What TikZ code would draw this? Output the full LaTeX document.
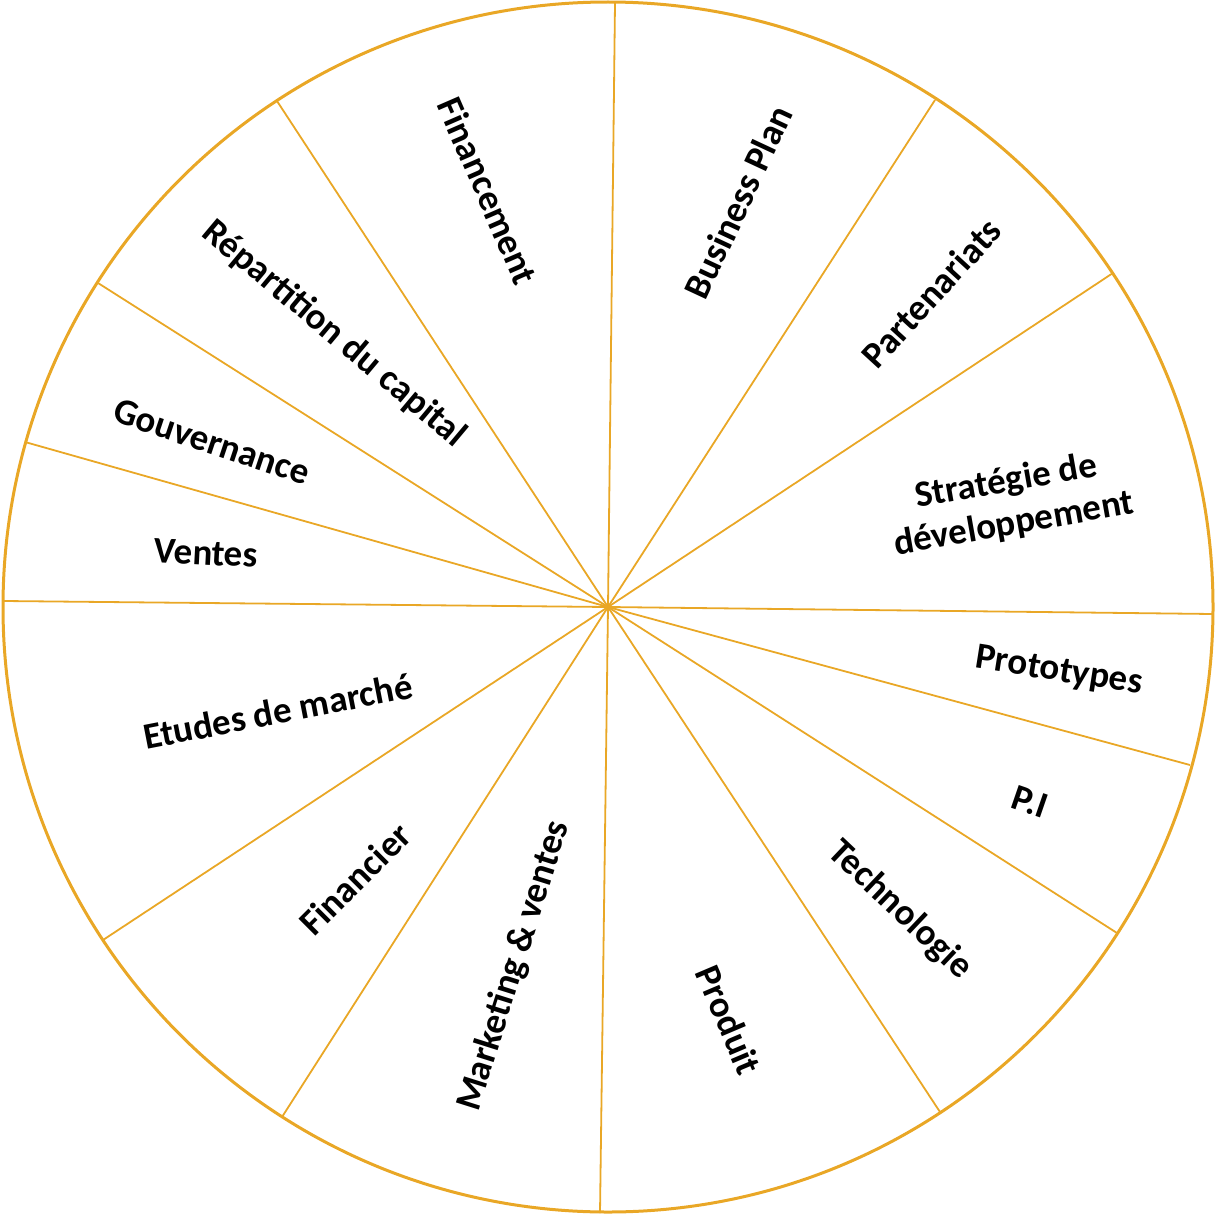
\documentclass[tikz,border=0pt]{standalone}
\usepackage{fontspec}
\setmainfont{Carlito}
\definecolor{gold}{RGB}{233,167,38}
\begin{document}
\begin{tikzpicture}[x=1pt,y=-1pt,
  rim/.style={draw=gold,line width=3pt},
  spoke/.style={draw=gold,line width=1.8pt},
  lab/.style={font=\fontsize{37}{43}\selectfont\bfseries,text=black,inner sep=0pt,align=center}]
\useasboundingbox (0,0) rectangle (1215,1215);
\coordinate (c) at (608,607);
\foreach \n/\x/\y in {p1/615/3,p2/935/100,p3/1113/273,p4/1213/614,p5/1190/765,p6/1117/933,p7/940/1112,p8/600/1213,p9/282/1117,p10/103/940,p11/4/601,p12/25/442,p13/98/283,p14/277/101}{
  \coordinate (\n) at (\x,\y);
  \draw[spoke] (c) -- (\n);
}
\draw[rim] (c) circle[radius=605];
\node[lab,rotate=-66.5] (financement) at (488,191) {Financement};
\node[lab,rotate=65] (bp) at (738,202) {Business Plan};
\node[lab,rotate=47.5] (part) at (931,293) {Partenariats};
\node[lab,rotate=10] (strat) at (1010,503) {Stratégie de\\développement};
\node[lab,rotate=-9] (proto) at (1059,672) {Prototypes};
\node[lab,rotate=-19] (pi) at (1030,802) {P.I};
\node[lab,rotate=-43.5] (tech) at (900,910) {Technologie};
\node[lab,rotate=-67] (produit) at (729,1020) {Produit};
\node[lab,rotate=72.5] (mkt) at (514,966) {Marketing \& ventes};
\node[lab,rotate=45] (fin) at (355,879) {Financier};
\node[lab,rotate=11] (etudes) at (278,711) {Etudes de marché};
\node[lab,rotate=-3] (ventes) at (206,553) {Ventes};
\node[lab,rotate=-18.5] (gouv) at (212,442) {Gouvernance};
\node[lab,rotate=-40] (rep) at (334,334) {Répartition du capital};
\end{tikzpicture}
\end{document}
